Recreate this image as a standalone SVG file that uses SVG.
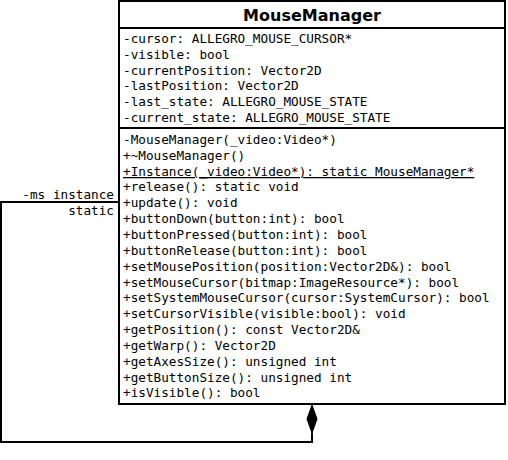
<svg xmlns="http://www.w3.org/2000/svg" width="508" height="460" viewBox="0 0 508 460">
<style>
.box{fill:#fff;stroke:#000;stroke-width:2}
.sep{stroke:#000;stroke-width:2}
.t{font-family:"DejaVu Sans Mono",monospace;font-size:12.7px;fill:#000}
.title{font-family:"DejaVu Sans",sans-serif;font-size:16px;font-weight:bold;fill:#000}
.conn{fill:none;stroke:#000;stroke-width:2}
</style>
<rect width="508" height="460" fill="#fff"/>
<g id="connectors">
<polyline class="conn" points="119,202 1,202 1,442 312,442 312,433"/>
<polygon points="312,405 317,419 312,433 307,419" fill="#000" stroke="#000" stroke-width="1"/>
<text class="t" x="114" y="199" text-anchor="end">-ms_instance</text>
<text class="t" x="114" y="215" text-anchor="end">static</text>
</g>
<g id="MouseManager">
<rect class="box" x="119" y="1" width="386" height="403"/>
<line class="sep" x1="119" y1="28" x2="505" y2="28"/>
<line class="sep" x1="119" y1="128" x2="505" y2="128"/>
<text class="title" x="312" y="21" text-anchor="middle">MouseManager</text>
<text class="t" x="123" y="43">-cursor: ALLEGRO_MOUSE_CURSOR*</text>
<text class="t" x="123" y="59">-visible: bool</text>
<text class="t" x="123" y="75">-currentPosition: Vector2D</text>
<text class="t" x="123" y="90">-lastPosition: Vector2D</text>
<text class="t" x="123" y="106">-last_state: ALLEGRO_MOUSE_STATE</text>
<text class="t" x="123" y="122">-current_state: ALLEGRO_MOUSE_STATE</text>
<text class="t" x="123" y="144">-MouseManager(_video:Video*)</text>
<text class="t" x="123" y="160">+~MouseManager()</text>
<text class="t" x="123" y="176" text-decoration="underline">+Instance(_video:Video*): static MouseManager*</text>
<text class="t" x="123" y="191">+release(): static void</text>
<text class="t" x="123" y="207">+update(): void</text>
<text class="t" x="123" y="223">+buttonDown(button:int): bool</text>
<text class="t" x="123" y="239">+buttonPressed(button:int): bool</text>
<text class="t" x="123" y="255">+buttonRelease(button:int): bool</text>
<text class="t" x="123" y="271">+setMousePosition(position:Vector2D&amp;): bool</text>
<text class="t" x="123" y="287">+setMouseCursor(bitmap:ImageResource*): bool</text>
<text class="t" x="123" y="302">+setSystemMouseCursor(cursor:SystemCursor): bool</text>
<text class="t" x="123" y="318">+setCursorVisible(visible:bool): void</text>
<text class="t" x="123" y="334">+getPosition(): const Vector2D&amp;</text>
<text class="t" x="123" y="350">+getWarp(): Vector2D</text>
<text class="t" x="123" y="366">+getAxesSize(): unsigned int</text>
<text class="t" x="123" y="382">+getButtonSize(): unsigned int</text>
<text class="t" x="123" y="397">+isVisible(): bool</text>
</g>
</svg>
